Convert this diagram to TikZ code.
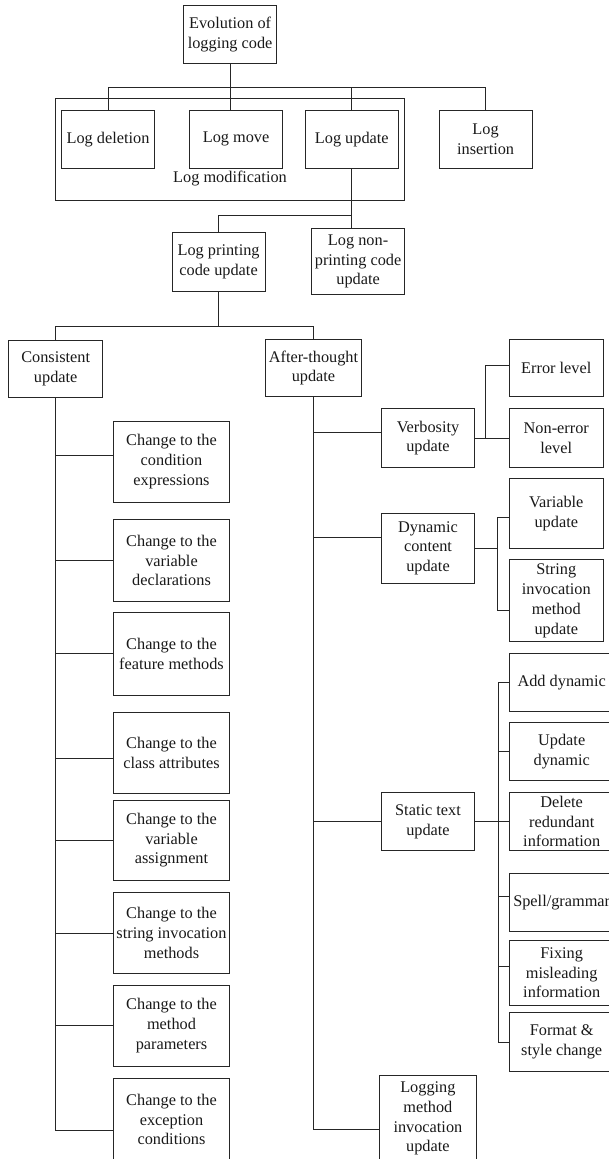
\documentclass[tikz,border=0pt]{standalone}
\usepackage{fontspec}
\setmainfont{Liberation Serif}
\begin{document}
\begin{tikzpicture}[x=1pt,y=-1pt,
  every node/.style={font=\fontsize{16.3}{19.8}\selectfont, text=black!90},
  box/.style={draw=black!85, line width=0.9pt, inner sep=0pt, align=center,
    minimum width=93.3pt, minimum height=57.7pt},
  conn/.style={draw=black!85, line width=0.9pt}]
\useasboundingbox (0,0) rectangle (609,1159);
\clip (0,0) rectangle (609,1159);
% top level
\node[box, minimum width=93.6pt, minimum height=57.6pt] (evo) at (230.1,34.5) {Evolution of\\logging code};
\node[box, minimum width=349.6pt, minimum height=101.7pt] (mod) at (229.9,149.2) {};
\node (modlbl) at (230,179) {Log modification};
\node[box] (del) at (108,139.2) {Log deletion};
\node[box] (mov) at (236.1,139.2) {Log move};
\node[box] (upd) at (351.8,139.2) {Log update};
\node[box] (ins) at (485.6,139.2) {Log\\insertion};
\node[box, minimum height=58.7pt] (prt) at (218.6,261.7) {Log printing\\code update};
\node[box, minimum height=65.6pt] (nonprt) at (358.1,261.5) {Log non-\\printing code\\update};
\node[box, minimum width=93.6pt, minimum height=57.4pt] (cons) at (55.7,369) {Consistent\\update};
\node[box, minimum width=96.7pt, minimum height=57.4pt] (after) at (313.5,368) {After-thought\\update};
% consistent column
\tikzset{cbox/.style={box, minimum width=116.1pt, minimum height=81.5pt}}
\node[cbox] (c1) at (171.5,461.8) {Change to the\\condition\\expressions};
\node[cbox, minimum height=82.4pt] (c2) at (171.5,560.5) {Change to the\\variable\\declarations};
\node[cbox, minimum height=82.3pt] (c3) at (171.5,653.8) {Change to the\\feature methods};
\node[cbox, minimum height=81pt] (c4) at (171.5,752.8) {Change to the\\class attributes};
\node[cbox, minimum height=80.3pt] (c5) at (171.5,840.2) {Change to the\\variable\\assignment};
\node[cbox, minimum height=81.4pt] (c6) at (171.5,933) {Change to the\\string invocation\\methods};
\node[cbox, minimum height=80.7pt] (c7) at (171.5,1025.7) {Change to the\\method\\parameters};
\node[cbox, minimum height=82pt] (c8) at (171.5,1119.5) {Change to the\\exception\\conditions};
% after-thought branch
\node[box, minimum height=58.6pt] (verb) at (428,438) {Verbosity\\update};
\node[box, minimum width=93.6pt, minimum height=57.4pt] (err) at (556.3,368) {Error level};
\node[box, minimum width=93.6pt, minimum height=58.6pt] (nonerr) at (556.3,438) {Non-error\\level};
\node[box, minimum height=70pt] (dyn) at (428,548.3) {Dynamic\\content\\update};
\node[box, minimum width=93.6pt, minimum height=69.6pt] (varu) at (556.3,513.5) {Variable\\update};
\node[box, minimum width=93.6pt, minimum height=82pt] (strm) at (556.3,600.7) {String\\invocation\\method\\update};
\node[box, minimum height=58.4pt] (stat) at (428,821.5) {Static text\\update};
\tikzset{sbox/.style={box, minimum width=104.7pt, minimum height=58.2pt}}
\node[sbox] (sa) at (561.7,682.3) {Add dynamic};
\node[sbox] (sb) at (561.7,751.8) {Update\\dynamic};
\node[sbox] (sc) at (561.7,821.5) {Delete\\redundant\\information};
\node[sbox] (sd) at (561.7,902.5) {Spell/grammar};
\node[sbox, minimum height=65.7pt] (se) at (561.7,972.8) {Fixing\\misleading\\information};
\node[sbox] (sf) at (561.7,1042) {Format \&\\style change};
\node[box, minimum width=97.7pt, minimum height=87pt] (lmi) at (427.9,1118.5) {Logging\\method\\invocation\\update};
% connectors: top
\coordinate (bus) at (230,87.3);
\draw[conn] (evo.south) -- (evo.south |- mov.north);
\draw[conn] (del.north) |- (bus) -| (ins.north);
\draw[conn] (upd.north) -- (upd.north |- bus);
\coordinate (ub) at (351.8,215);
\draw[conn] (upd.south) -- (upd.south |- nonprt.north);
\draw[conn] (ub) -| (prt.north);
\coordinate (pb) at (218.6,326.7);
\draw[conn] (prt.south) -- (pb);
\draw[conn] (cons.north) |- (pb) -| (after.north);
% consistent branches
\draw[conn] (cons.south) |- ([yshift=6.1pt]c1.west);
\draw[conn] (cons.south) |- (c2.west);
\draw[conn] (cons.south) |- (c3.west);
\draw[conn] (cons.south) |- ([yshift=-5.5pt]c4.west);
\draw[conn] (cons.south) |- (c5.west);
\draw[conn] (cons.south) |- (c6.west);
\draw[conn] (cons.south) |- (c7.west);
\draw[conn] (cons.south) |- ([yshift=-11pt]c8.west);
% after-thought branches
\draw[conn] (after.south) |- ([yshift=5.7pt]verb.west);
\draw[conn] (after.south) |- ([yshift=11.3pt]dyn.west);
\draw[conn] (after.south) |- (stat.west);
\draw[conn] (after.south) |- ([yshift=-10.8pt]lmi.west);
% verbosity fork
\coordinate (vf) at (485.8,438);
\draw[conn] (verb.east) -- (nonerr.west);
\draw[conn] (vf) |- ([yshift=2.3pt]err.west);
% dynamic fork
\coordinate (df) at (497.1,548.3);
\draw[conn] (dyn.east) -- (df);
\draw[conn] ([yshift=-4.2pt]varu.west) -| (df) |- ([yshift=-9.3pt]strm.west);
% static fork
\coordinate (sfk) at (498.3,821.5);
\draw[conn] (stat.east) -- (sc.west);
\draw[conn] (sa.west) -| (sfk);
\draw[conn] (sb.west) -| (sfk);
\draw[conn] ([yshift=5.8pt]sd.west) -| (sfk);
\draw[conn] ([yshift=6pt]se.west) -| (sfk);
\draw[conn] (sf.west) -| (sfk);
\end{tikzpicture}
\end{document}
